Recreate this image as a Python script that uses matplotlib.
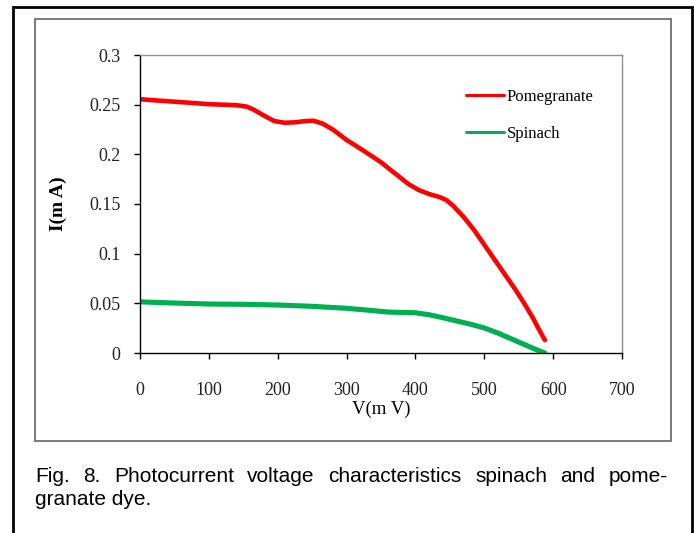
import matplotlib
matplotlib.use('Agg')
import matplotlib.pyplot as plt
import matplotlib.patches as pch
import matplotlib.ticker as mtick

# datos
v_pom = [0, 25, 50, 75, 100, 120, 140, 155, 165, 180, 195, 210, 225, 240, 252, 265, 280, 300, 325, 350,
         370, 390, 405, 420, 435, 445, 455, 470, 485, 500, 515, 530, 545, 558, 570, 580, 588]
i_pom = [0.2555, 0.2542, 0.2530, 0.2518, 0.2505, 0.2500, 0.2495, 0.2480, 0.2450, 0.2390, 0.2335, 0.2318,
         0.2322, 0.2335, 0.2338, 0.2310, 0.2250, 0.2145, 0.2035, 0.1920, 0.1810, 0.1700, 0.1640, 0.1600,
         0.1570, 0.1540, 0.1480, 0.1370, 0.1240, 0.1090, 0.0940, 0.0790, 0.0640, 0.0500, 0.0360, 0.0230, 0.0130]

v_spi = [0, 50, 100, 150, 200, 250, 300, 330, 360, 385, 400, 420, 440, 460, 480, 500, 520, 540, 560, 575, 588]
i_spi = [0.0515, 0.0503, 0.0493, 0.0490, 0.0483, 0.0470, 0.0450, 0.0432, 0.0412, 0.0408, 0.0405, 0.0385,
         0.0355, 0.0322, 0.0290, 0.0252, 0.0200, 0.0140, 0.0080, 0.0035, 0.0000]

series = ['Pomegranate', 'Spinach']
colores = ['#ff0000', '#00b050']

x_ticks = [0, 100, 200, 300, 400, 500, 600, 700]
y_ticks = [0, 0.05, 0.1, 0.15, 0.2, 0.25, 0.3]

caption_1 = "Fig. 8. Photocurrent voltage characteristics spinach and pome-"
caption_2 = "granate dye."

W, H = 694, 533
fig = plt.figure(figsize=(W / 100, H / 100), dpi=100)

def fx(px):
    return px / W

def fy(py):
    return 1 - py / H

# marco exterior negro
fig.add_artist(pch.Rectangle((fx(13), fy(540)), fx(692) - fx(13), fy(7) - fy(540),
                             transform=fig.transFigure, fill=False, edgecolor='black', linewidth=2))
# marco del grafico gris
fig.add_artist(pch.Rectangle((fx(34.5), fy(440.5)), fx(671) - fx(34.5), fy(19) - fy(440.5),
                             transform=fig.transFigure, fill=False, edgecolor='#707070', linewidth=1.3))

ax = fig.add_axes([fx(140), fy(353), fx(622) - fx(140), fy(55) - fy(353)])
ax.plot(v_pom, i_pom, color=colores[0], linewidth=3.3, solid_capstyle='round', solid_joinstyle='round',
        label=series[0])
ax.plot(v_spi, i_spi, color=colores[1], linewidth=3.7, solid_capstyle='round', solid_joinstyle='round',
        label=series[1])

ax.set_xlim(0, 700)
ax.set_ylim(0, 0.3)
ax.set_xticks(x_ticks)
ax.set_yticks(y_ticks)
ax.yaxis.set_major_formatter(mtick.FuncFormatter(lambda v, p: '%g' % v))

serif = 'Liberation Serif'
for lab in ax.get_xticklabels() + ax.get_yticklabels():
    lab.set_fontfamily(serif)
    lab.set_fontsize(13)
    lab.set_color('#222222')
ax.tick_params(axis='both', direction='out', length=4, width=1, color='black')
ax.tick_params(axis='x', pad=17)
ax.tick_params(axis='y', pad=10)

for s in ['left', 'bottom']:
    ax.spines[s].set_color('black')
    ax.spines[s].set_linewidth(1)
for s in ['top', 'right']:
    ax.spines[s].set_color('#909090')
    ax.spines[s].set_linewidth(1)

ax.set_xlabel('V(m V)', fontfamily=serif, fontsize=13.5, labelpad=1)
ax.set_ylabel('I(m A)', fontfamily=serif, fontsize=14, fontweight='bold', labelpad=16)

ax_w = 622 - 140
ax_h = 353 - 55
leg = ax.legend(loc='upper left', bbox_to_anchor=((459 - 140) / ax_w, 1 - (82 - 55) / ax_h),
                bbox_transform=ax.transAxes, frameon=False, handlelength=2.3, handletextpad=0.15,
                labelspacing=1.25, prop={'family': serif, 'size': 12}, borderaxespad=0)
for ln in leg.get_lines():
    ln.set_linewidth(2.2)

# leyenda de la figura, justificada
fig.canvas.draw()
renderer = fig.canvas.get_renderer()
cap_font = dict(family='Liberation Sans', size=15, color='black')
palabras = caption_1.split(' ')
objs = [fig.text(0, fy(482), w, **cap_font, va='baseline') for w in palabras]
anchos = [o.get_window_extent(renderer).width for o in objs]
x0, x1 = 35, 668
hueco = (x1 - x0 - sum(anchos)) / (len(palabras) - 1)
x = x0
for o, a in zip(objs, anchos):
    o.set_x(fx(x))
    x += a + hueco
fig.text(fx(35), fy(505), caption_2, **cap_font, va='baseline')

fig.savefig('out.png', dpi=100)
